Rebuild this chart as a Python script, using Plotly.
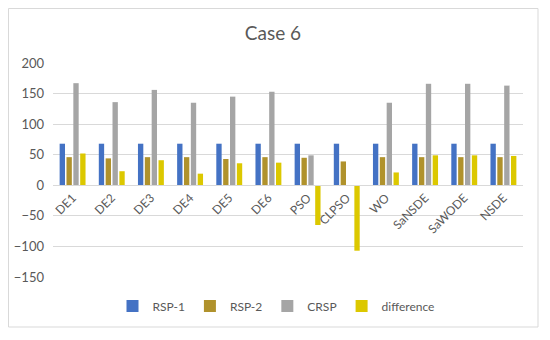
import plotly.graph_objects as go

categories = ["DE1", "DE2", "DE3", "DE4", "DE5", "DE6", "PSO", "CLPSO", "WO", "SaNSDE", "SaWODE", "NSDE"]
rsp1 = [68, 68, 68, 68, 68, 68, 68, 68, 68, 68, 68, 68]
rsp2 = [46, 44, 46, 46, 43, 46, 45, 39, 46, 46, 46, 46]
crsp = [167, 136, 156, 135, 145, 153, 49, 0, 135, 166, 166, 163]
difference = [52, 23, 41, 19, 36, 37, -65, -107, 21, 49, 49, 48]

series_names = ["RSP-1", "RSP-2", "CRSP", "difference"]
series_values = [rsp1, rsp2, crsp, difference]
colors = ["#4472C4", "#B0922C", "#A5A5A5", "#DCC800"]

y_min, y_max = -150, 200
y_ticks = [200, 150, 100, 50, 0, -50, -100, -150]

# page body has an 8px margin, so the figure is placed at (8, 8) on screen
OFF = 8
W, H = 550 - OFF, 340 - OFF
ml, mr, mt, mb = 53 - OFF, 550 - 523, 63 - OFF, 340 - 277

plot_w = W - ml - mr
plot_h = H - mt - mb

def px_x(p):
    return (p - OFF - ml) / plot_w

def px_y(p):
    return (H - mb - (p - OFF)) / plot_h

fig = go.Figure()
for name, vals, c in zip(series_names, series_values, colors):
    fig.add_trace(go.Bar(x=categories, y=vals, name=name,
                         marker=dict(color=c, line=dict(width=0))))

zero_frac = (0 - y_min) / (y_max - y_min)

fig.update_layout(
    width=W, height=H,
    margin=dict(l=ml, r=mr, t=mt, b=mb, autoexpand=False),
    paper_bgcolor="white", plot_bgcolor="white",
    font=dict(family="Lato, Open Sans, sans-serif", color="#595959", size=12),
    title=dict(text="Case 6", xref="container", x=(273 - OFF) / W, xanchor="center",
               y=1 - (33 - OFF) / H, yanchor="middle",
               font=dict(size=19, color="#595959")),
    barmode="group", bargap=0.3, bargroupgap=0.22,
    showlegend=True,
    legend=dict(orientation="h", x=px_x(276), xanchor="center", y=px_y(306), yanchor="middle",
                font=dict(size=12, color="#595959"), itemwidth=30, traceorder="normal",
                bgcolor="rgba(0,0,0,0)"),
    xaxis=dict(anchor="free", position=zero_frac, tickangle=-45, showgrid=False,
               showline=True, linecolor="#D9D9D9", linewidth=1, ticks="", automargin=False,
               tickfont=dict(size=12, color="#595959"), zeroline=False),
    yaxis=dict(range=[y_min, y_max], tickvals=y_ticks, showgrid=True, gridcolor="#D9D9D9",
               gridwidth=1, zeroline=True, zerolinecolor="#D9D9D9", zerolinewidth=1,
               showline=False, ticks="", ticklabelstandoff=8, automargin=False,
               tickfont=dict(size=13, color="#595959")),
)

fig.add_shape(type="rect", xref="paper", yref="paper",
              x0=px_x(8.5), x1=px_x(538), y0=px_y(327), y1=px_y(8.5),
              line=dict(color="#D9D9D9", width=1), fillcolor="rgba(0,0,0,0)", layer="below")

fig.write_html("out.html")
